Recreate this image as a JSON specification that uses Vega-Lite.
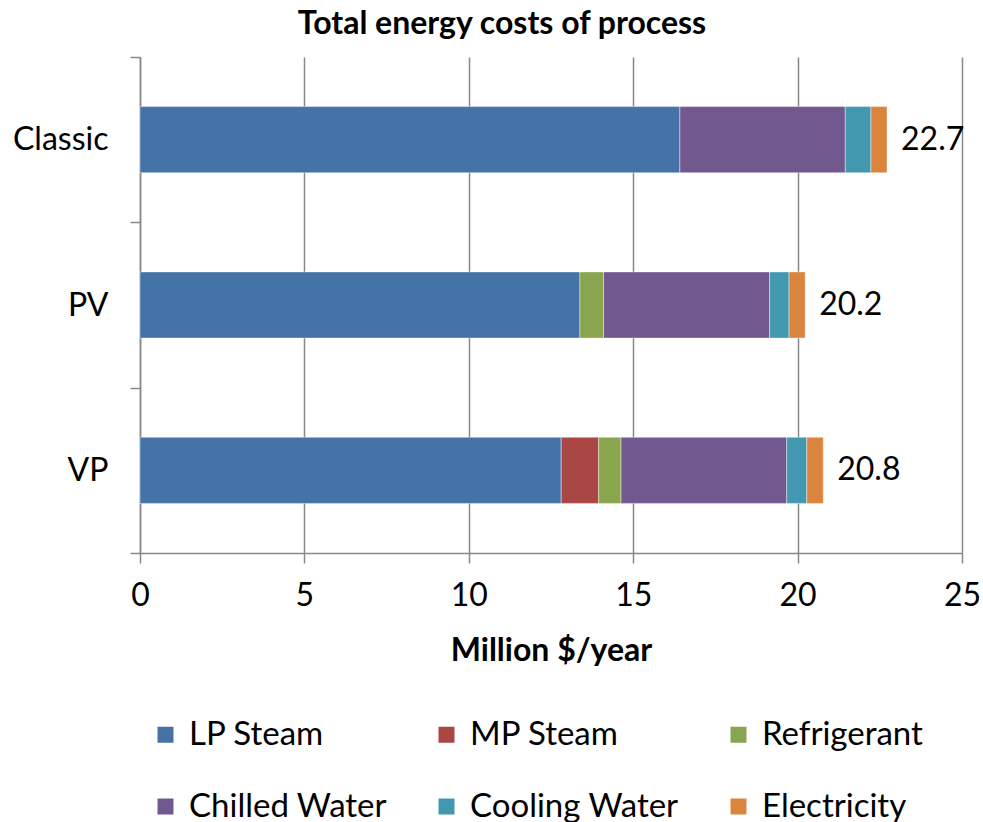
{
  "$schema": "https://vega.github.io/schema/vega-lite/v6.json",
  "autosize": "none",
  "width": 822,
  "height": 496,
  "padding": {"left": 140, "top": 57, "right": 21, "bottom": 269},
  "background": "white",
  "title": {
    "text": "Total energy costs of process",
    "font": "Lato",
    "fontSize": 32,
    "fontWeight": "bold",
    "color": "#000000",
    "anchor": "middle",
    "dx": -49,
    "offset": 0
  },
  "config": {
    "view": {"stroke": null},
    "font": "Lato"
  },
  "data": {
    "values": [
      {"design": "Classic", "utility": "LP Steam", "cost": 16.42},
      {"design": "Classic", "utility": "Chilled Water", "cost": 5.03},
      {"design": "Classic", "utility": "Cooling Water", "cost": 0.78},
      {"design": "Classic", "utility": "Electricity", "cost": 0.49},
      {"design": "PV", "utility": "LP Steam", "cost": 13.38},
      {"design": "PV", "utility": "Refrigerant", "cost": 0.72},
      {"design": "PV", "utility": "Chilled Water", "cost": 5.05},
      {"design": "PV", "utility": "Cooling Water", "cost": 0.59},
      {"design": "PV", "utility": "Electricity", "cost": 0.49},
      {"design": "VP", "utility": "LP Steam", "cost": 12.81},
      {"design": "VP", "utility": "MP Steam", "cost": 1.14},
      {"design": "VP", "utility": "Refrigerant", "cost": 0.68},
      {"design": "VP", "utility": "Chilled Water", "cost": 5.04},
      {"design": "VP", "utility": "Cooling Water", "cost": 0.61},
      {"design": "VP", "utility": "Electricity", "cost": 0.5}
    ]
  },
  "transform": [
    {
      "calculate": "indexof(['LP Steam', 'MP Steam', 'Refrigerant', 'Chilled Water', 'Cooling Water', 'Electricity'], datum.utility)",
      "as": "stack_rank"
    }
  ],
  "encoding": {
    "y": {
      "field": "design",
      "type": "nominal",
      "sort": ["Classic", "PV", "VP"],
      "scale": {"paddingInner": 0, "paddingOuter": 0},
      "axis": {
        "title": null,
        "domainColor": "#888888",
        "domainWidth": 1.5,
        "tickColor": "#888888",
        "tickWidth": 1.5,
        "tickSize": 10,
        "tickBand": "extent",
        "labelFont": "Lato",
        "labelFontSize": 32,
        "labelColor": "#000000",
        "labelPadding": 22
      }
    }
  },
  "layer": [
    {
      "mark": {"type": "bar", "height": {"band": 0.4}, "stroke": "white", "strokeWidth": 0.6, "strokeOpacity": 0.7},
      "encoding": {
        "x": {
          "field": "cost",
          "type": "quantitative",
          "aggregate": "sum",
          "stack": "zero",
          "scale": {"domain": [0, 25], "nice": false},
          "axis": {
            "title": "Million $/year",
            "titleFont": "Lato",
            "titleFontSize": 32,
            "titleFontWeight": "bold",
            "titleColor": "#000000",
            "titlePadding": 24,
            "values": [0, 5, 10, 15, 20, 25],
            "grid": true,
            "gridColor": "#888888",
            "gridWidth": 1.5,
            "domainColor": "#888888",
            "domainWidth": 1.5,
            "tickColor": "#888888",
            "tickWidth": 1.5,
            "tickSize": 10,
            "labelFont": "Lato",
            "labelFontSize": 32,
            "labelColor": "#000000",
            "labelPadding": 17,
            "labelFlush": false
          }
        },
        "color": {
          "field": "utility",
          "type": "nominal",
          "sort": ["LP Steam", "MP Steam", "Refrigerant", "Chilled Water", "Cooling Water", "Electricity"],
          "scale": {
            "domain": ["LP Steam", "MP Steam", "Refrigerant", "Chilled Water", "Cooling Water", "Electricity"],
            "range": ["#4572A7", "#AA4643", "#89A54E", "#71588F", "#4198AF", "#DB843D"]
          },
          "legend": {
            "title": null,
            "orient": "none",
            "legendX": 9,
            "legendY": 661,
            "direction": "horizontal",
            "columns": 3,
            "columnPadding": 43,
            "rowPadding": 38,
            "symbolType": "square",
            "symbolSize": 256,
            "symbolStrokeWidth": 0,
            "labelFont": "Lato",
            "labelFontSize": 33,
            "labelColor": "#000000",
            "labelOffset": 7,
            "labelLimit": 400
          }
        },
        "order": {"field": "stack_rank", "type": "quantitative", "sort": "ascending"}
      }
    },
    {
      "mark": {"type": "text", "align": "left", "baseline": "middle", "dx": 14, "font": "Lato", "fontSize": 32, "color": "#000000"},
      "encoding": {
        "x": {"field": "cost", "type": "quantitative", "aggregate": "sum"},
        "text": {"field": "cost", "type": "quantitative", "aggregate": "sum", "format": ".1f"}
      }
    }
  ]
}
